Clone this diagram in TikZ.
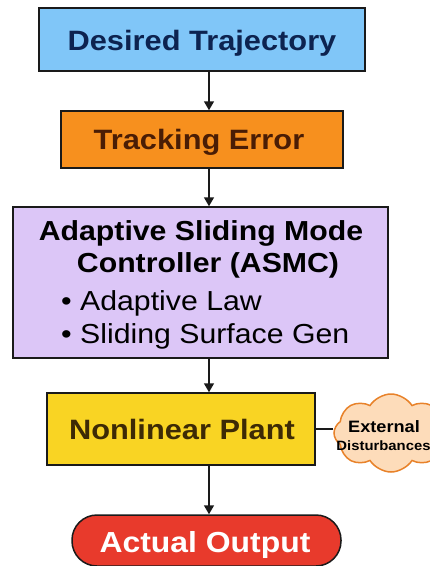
\documentclass[tikz,border=0pt]{standalone}
\usepackage{fontspec}
\setmainfont{Liberation Sans}[FakeStretch=1.1]
\usetikzlibrary{arrows.meta,shapes.symbols}
\definecolor{trajfill}{HTML}{80C6F8}
\definecolor{trajtext}{HTML}{0D2350}
\definecolor{errfill}{HTML}{F7901E}
\definecolor{errtext}{HTML}{4A1D05}
\definecolor{ctrlfill}{HTML}{DCC6F7}
\definecolor{plantfill}{HTML}{F9D423}
\definecolor{planttext}{HTML}{3D2A05}
\definecolor{outfill}{HTML}{E83A2C}
\definecolor{cloudfill}{HTML}{FDDCBA}
\definecolor{cloudline}{HTML}{E8822A}
\definecolor{edge}{HTML}{1A1A1A}
\tikzset{
  block/.style={draw=edge, line width=1.5pt, inner sep=0pt},
  flow/.style={draw=edge, line width=1.5pt, -{Triangle[width=10pt,length=9pt]}},
  btext/.style={font=\bfseries\fontsize{28}{30}\selectfont, inner sep=0pt, anchor=base},
}
\begin{document}
\begin{tikzpicture}[x=1pt,y=-1pt]
\useasboundingbox (0,0) rectangle (430,566);
\fill[white] (0,0) rectangle (430,566);
\coordinate (ax) at (209,0);

% main chain of blocks
\node[block, fill=trajfill, minimum width=326pt, minimum height=63pt] (traj) at (202,39.5) {};
\node[btext, text=trajtext] (trajlbl) at (202,50) {Desired Trajectory};

\node[block, fill=errfill, minimum width=282pt, minimum height=57pt] (err) at (202,139.5) {};
\node[btext, text=errtext] (errlbl) at (199,149) {Tracking Error};

\node[block, fill=ctrlfill, minimum width=375pt, minimum height=151pt] (ctrl) at (200.5,282.5) {};
\node[btext, font=\bfseries\fontsize{27.5}{29}\selectfont, text=black] (ctrl1) at (201,240) {Adaptive Sliding Mode};
\node[btext, font=\bfseries\fontsize{27.5}{29}\selectfont, text=black] (ctrl2) at (208,272) {Controller (ASMC)};
\node[btext, anchor=base west, font=\fontsize{27.5}{29}\selectfont, text=black] (law) at (61,310) {\textbullet\ Adaptive Law};
\node[btext, anchor=base west, font=\fontsize{27.5}{29}\selectfont, text=black] (surf) at (61,343) {\textbullet\ Sliding Surface Gen};

\node[block, fill=plantfill, minimum width=268pt, minimum height=72pt] (plant) at (181,429) {};
\node[btext, text=planttext] (plantlbl) at (182,439) {Nonlinear Plant};

\node[block, fill=outfill, minimum width=269pt, minimum height=51pt, rounded corners=25pt] (out) at (206.5,540.5) {};
\node[btext, text=white, font=\bfseries\fontsize{29}{31}\selectfont] (outlbl) at (205,552) {Actual Output};

% disturbance cloud
\node[cloud, cloud puffs=8, cloud puff arc=115, aspect=1.45, draw=cloudline, fill=cloudfill, line width=1.5pt, minimum width=114pt, minimum height=78pt, inner sep=0pt] (dist) at (391,433) {};
\node[btext, font=\bfseries\fontsize{16.5}{18}\selectfont, text=black] (dist1) at (384,432) {External};
\node[btext, font=\bfseries\fontsize{13.5}{15}\selectfont, text=black] (dist2) at (383.5,450) {Disturbances};

% connectors
\draw[flow] (traj.south -| ax) -- (err.north -| ax);
\draw[flow] (err.south -| ax) -- (ctrl.north -| ax);
\draw[flow] (ctrl.south -| ax) -- (plant.north -| ax);
\draw[flow] (plant.south -| ax) -- (out.north -| ax);
\draw[draw=edge, line width=1.5pt] (plant.east) -- (plant.east -| dist.west);
\end{tikzpicture}
\end{document}
